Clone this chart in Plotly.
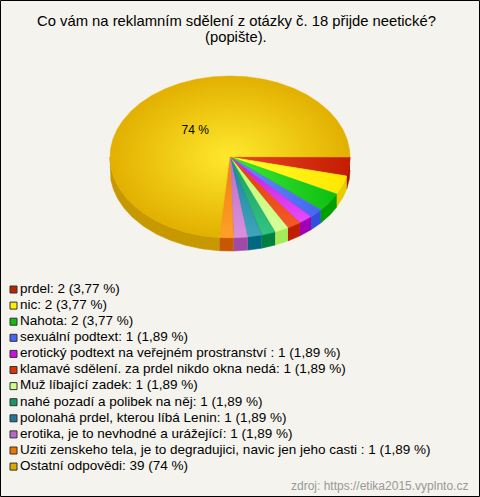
import numpy as np
import plotly.graph_objects as go

# ---------------- data ----------------
labels = [
    "prdel",
    "nic",
    "Nahota",
    "sexuální podtext",
    "erotický podtext na veřejném prostranství ",
    "klamavé sdělení. za prdel nikdo okna nedá",
    "Muž líbající zadek",
    "nahé pozadí a polibek na něj",
    "polonahá prdel, kterou líbá Lenin",
    "erotika, je to nevhodné a urážející",
    "Uziti zenskeho tela, je to degradujici, navic jen jeho casti ",
    "Ostatní odpovědi",
]
counts = [2, 2, 2, 1, 1, 1, 1, 1, 1, 1, 1, 39]

title_lines = ["Co vám na reklamním sdělení z otázky č. 18 přijde neetické?", "(popište)."]
source_text = "zdroj: https://etika2015.vyplnto.cz"

# ---------------- styles ----------------
swatch_colors = ["#bb2200", "#ffee00", "#11bb11", "#4466ff", "#cc11dd", "#dd3300",
                 "#ccff88", "#119966", "#227799", "#bb66cc", "#ee7700", "#ddaa00"]
rim_colors = ["#c41c00", "#ffe600", "#0fbf0f", "#4466ee", "#bf1fd6", "#e03c0c",
              "#bdfc6c", "#18a05c", "#1f7f9c", "#bf6cc8", "#ef7e10", "#e2b000"]
center_colors = ["#e8482a", "#ffff30", "#3ae83a", "#6a8cff", "#e84aff", "#f35a26",
                 "#d8ff9a", "#32c482", "#3ea6bc", "#d892dc", "#ffa02a", "#ffe92e"]
side_colors = ["#a81400", "#e6cc00", "#00a000", "#3050dc", "#a000b4", "#c01e00",
               "#a6ea58", "#008040", "#006880", "#a04aa8", "#c85800", "#c89800"]

BG = "#f4f3ed"
FONT = "Arial, Liberation Sans, sans-serif"
W, H = 480, 497
CX, CY, RX, RY, DEPTH = 230, 157, 120, 81, 13

total = sum(counts)
pcts = [c / total * 100 for c in counts]


def fmt_pct(p):
    if p >= 10:
        return f"{p:.0f} %"
    return f"{p:.2f}".replace(".", ",") + " %"


angles = np.cumsum([0] + counts) / total * 360.0

fig = go.Figure()

# side walls (front half only)
for i, (a0, a1) in enumerate(zip(angles[:-1], angles[1:])):
    s0, s1 = max(a0, 0.0), min(a1, 180.0)
    if s1 <= s0:
        continue
    n = max(3, int((s1 - s0) * 2))
    t = np.radians(np.linspace(s0, s1, n))
    xs = CX + RX * np.cos(t)
    ys = CY + RY * np.sin(t)
    X = np.concatenate([xs, xs[::-1]])
    Y = np.concatenate([ys, ys[::-1] + DEPTH])
    fig.add_trace(go.Scatter(x=X, y=Y, mode="lines", fill="toself",
                             fillcolor=side_colors[i],
                             line=dict(width=0.6, color=side_colors[i]),
                             hoverinfo="skip", showlegend=False))

# top faces
for i, (a0, a1) in enumerate(zip(angles[:-1], angles[1:])):
    n = max(4, int((a1 - a0) * 2))
    t = np.radians(np.linspace(a0, a1, n))
    X = np.concatenate([[CX], CX + RX * np.cos(t), [CX]])
    Y = np.concatenate([[CY], CY + RY * np.sin(t), [CY]])
    mid = np.radians((a0 + a1) / 2)
    if a1 - a0 > 180:
        grad = dict(type="radial", colorscale=[[0, center_colors[i]], [1, rim_colors[i]]])
    elif abs(np.cos(mid)) >= abs(np.sin(mid)):
        cs = [[0, center_colors[i]], [1, rim_colors[i]]] if np.cos(mid) > 0 else [[0, rim_colors[i]], [1, center_colors[i]]]
        grad = dict(type="horizontal", colorscale=cs)
    else:
        cs = [[0, center_colors[i]], [1, rim_colors[i]]] if np.sin(mid) > 0 else [[0, rim_colors[i]], [1, center_colors[i]]]
        grad = dict(type="vertical", colorscale=cs)
    fig.add_trace(go.Scatter(x=X, y=Y, mode="lines", fill="toself",
                             fillgradient=grad,
                             line=dict(width=0.5, color=rim_colors[i]),
                             hoverinfo="skip", showlegend=False))

# slice labels (only large slices)
lab_x, lab_y, lab_t = [], [], []
for i, (a0, a1) in enumerate(zip(angles[:-1], angles[1:])):
    if pcts[i] >= 10:
        mid = np.radians((a0 + a1) / 2)
        lab_x.append(CX + 0.43 * RX * np.cos(mid))
        lab_y.append(CY + 0.43 * RY * np.sin(mid))
        lab_t.append(fmt_pct(pcts[i]))
fig.add_trace(go.Scatter(x=lab_x, y=lab_y, mode="text", text=lab_t,
                         textfont=dict(family=FONT, size=12, color="#000"),
                         hoverinfo="skip", showlegend=False))

# legend
leg_y = [289.5 + 16.1 * i for i in range(len(labels))]
leg_text = [f"{l}: {c} ({fmt_pct(p)})" for l, c, p in zip(labels, counts, pcts)]
fig.add_trace(go.Scatter(x=[13.5] * len(labels), y=leg_y, mode="markers",
                         marker=dict(symbol="square", size=7, color=swatch_colors,
                                     line=dict(width=1, color="#333")),
                         hoverinfo="skip", showlegend=False))
fig.add_trace(go.Scatter(x=[20] * len(labels), y=leg_y, mode="text",
                         text=leg_text, textposition="middle right",
                         textfont=dict(family=FONT, size=13.5, color="#000"),
                         hoverinfo="skip", showlegend=False))

annotations = [
    dict(x=236, y=21, text=title_lines[0], showarrow=False, xanchor="center", yanchor="middle",
         font=dict(family=FONT, size=14.8, color="#000")),
    dict(x=236, y=37, text=title_lines[1], showarrow=False, xanchor="center", yanchor="middle",
         font=dict(family=FONT, size=14.8, color="#000")),
    dict(x=470, y=486, text=source_text, showarrow=False, xanchor="right", yanchor="middle",
         font=dict(family=FONT, size=12, color="#999")),
]

fig.update_layout(
    width=W, height=H,
    margin=dict(l=0, r=0, t=0, b=0, pad=0),
    paper_bgcolor=BG, plot_bgcolor=BG,
    xaxis=dict(range=[0, W], visible=False, fixedrange=True),
    yaxis=dict(range=[H, 0], visible=False, fixedrange=True),
    annotations=annotations,
    shapes=[dict(type="rect", xref="x", yref="y", x0=0.5, y0=0.5, x1=W - 0.5, y1=H - 0.5,
                 line=dict(color="#000", width=1), layer="above")],
    showlegend=False,
)

fig.write_html("out.html", config={"displayModeBar": False},
               post_script="document.body.style.margin='0';document.body.style.overflow='hidden';")
